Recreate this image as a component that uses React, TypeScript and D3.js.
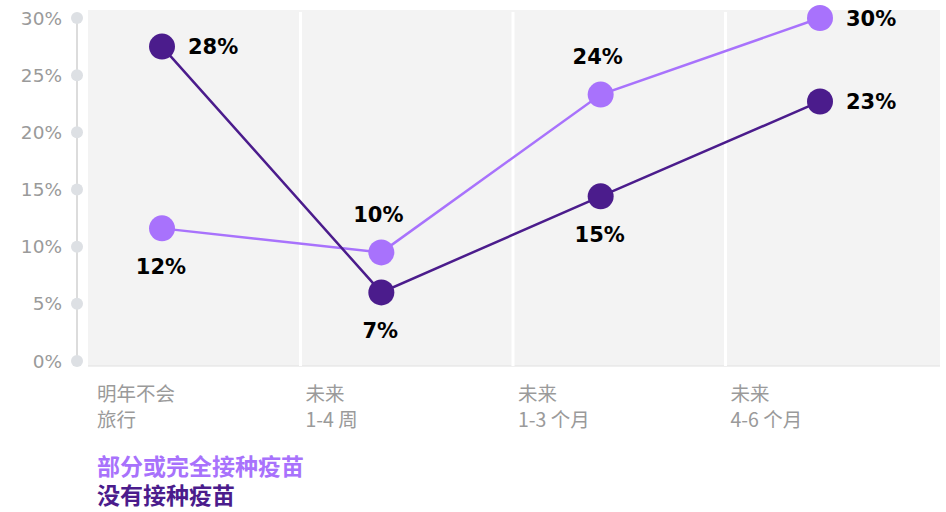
import React, { useEffect } from "react";
import * as d3 from "d3";

const categories = ["明年不会|旅行", "未来|1-4 周", "未来|1-3 个月", "未来|4-6 个月"];
const vaccinatedValues = [11.6, 9.5, 23.3, 30.0];
const unvaccinatedValues = [27.5, 6.0, 14.4, 22.7];
const vaccinatedLabels = ["12%", "10%", "24%", "30%"];
const unvaccinatedLabels = ["28%", "7%", "15%", "23%"];
const vaccinatedLabelPos = ["below", "above", "above", "right"];
const unvaccinatedLabelPos = ["right", "below", "below", "right"];
const yTicks = [0, 5, 10, 15, 20, 25, 30];
const legendNames = ["部分或完全接种疫苗", "没有接种疫苗"];

const W = 946;
const H = 512;
const LIGHT = "#a872fc";
const DARK = "#4b1c8c";
const NUMFONT = "'DejaVu Sans', sans-serif";
const CJK = "'Noto Sans CJK SC', 'Noto Sans', sans-serif";

export default function App() {
  useEffect(() => {
    document.body.style.margin = "0";
  }, []);

  const xBand = d3.scaleBand<string>().domain(categories).range([88, 938]);
  const xPoint = d3.scalePoint<string>().domain(categories).range([162, 820]);
  const y = d3.scaleLinear().domain([0, 30]).range([361, 18]);
  const line = d3
    .line<number>()
    .x((_, i) => xPoint(categories[i]) as number)
    .y((d) => y(d));

  const series = [
    { values: vaccinatedValues, labels: vaccinatedLabels, pos: vaccinatedLabelPos, color: LIGHT },
    { values: unvaccinatedValues, labels: unvaccinatedLabels, pos: unvaccinatedLabelPos, color: DARK },
  ];

  const labelXY = (px: number, py: number, pos: string) => {
    if (pos === "right") return { x: px + 26, y: py, anchor: "start" };
    if (pos === "above") return { x: px - 3, y: py - 38, anchor: "middle" };
    return { x: px - 1, y: py + 38, anchor: "middle" };
  };

  return (
    <svg width={W} height={H} style={{ display: "block" }}>
      <rect x={88} y={10} width={852} height={356} fill="#f3f3f3" />
      <line x1={88} x2={940} y1={366} y2={366} stroke="#e0e0e0" strokeWidth={1} />
      {categories.slice(1).map((c) => (
        <line
          key={c}
          x1={xBand(c) as number}
          x2={xBand(c) as number}
          y1={12}
          y2={366}
          stroke="#ffffff"
          strokeWidth={3}
        />
      ))}
      {/* y axis */}
      <line x1={77} x2={77} y1={y(30)} y2={y(0)} stroke="#d0d0d0" strokeWidth={1.5} />
      {yTicks.map((t) => (
        <g key={t}>
          <circle cx={77} cy={y(t)} r={6} fill="#dde0e4" />
          <text
            x={62}
            y={y(t)}
            dy="0.36em"
            textAnchor="end"
            fontFamily={NUMFONT}
            fontSize={18.5}
            fill="#9a9a9a"
          >
            {t}%
          </text>
        </g>
      ))}
      {/* x labels */}
      {categories.map((c, i) => {
        const x0 = (xBand(c) as number) + (i === 0 ? 9 : 5);
        const parts = c.split("|");
        return (
          <g key={c} fontFamily={CJK} fontSize={19.5} fill="#9a9a9a">
            <text x={x0} y={401}>{parts[0]}</text>
            <text x={x0} y={427}>{parts[1]}</text>
          </g>
        );
      })}
      {/* lines */}
      {series.map((s, si) => (
        <path key={si} d={line(s.values) || ""} fill="none" stroke={s.color} strokeWidth={2.5} />
      ))}
      {series.map((s, si) =>
        s.values.map((v, i) => (
          <circle
            key={`${si}-${i}`}
            cx={xPoint(categories[i]) as number}
            cy={y(v)}
            r={13}
            fill={s.color}
          />
        ))
      )}
      {series.map((s, si) =>
        s.values.map((v, i) => {
          const p = labelXY(xPoint(categories[i]) as number, y(v), s.pos[i]);
          return (
            <text
              key={`l${si}-${i}`}
              x={p.x}
              y={p.y}
              dy="0.36em"
              textAnchor={p.anchor as any}
              fontFamily={NUMFONT}
              fontWeight={700}
              fontSize={21}
              fill="#000"
            >
              {s.labels[i]}
            </text>
          );
        })
      )}
      {/* legend */}
      <text x={97} y={475} fontFamily={CJK} fontWeight={700} fontSize={23} fill={LIGHT}>
        {legendNames[0]}
      </text>
      <text x={97} y={504} fontFamily={CJK} fontWeight={700} fontSize={23} fill={DARK}>
        {legendNames[1]}
      </text>
    </svg>
  );
}
